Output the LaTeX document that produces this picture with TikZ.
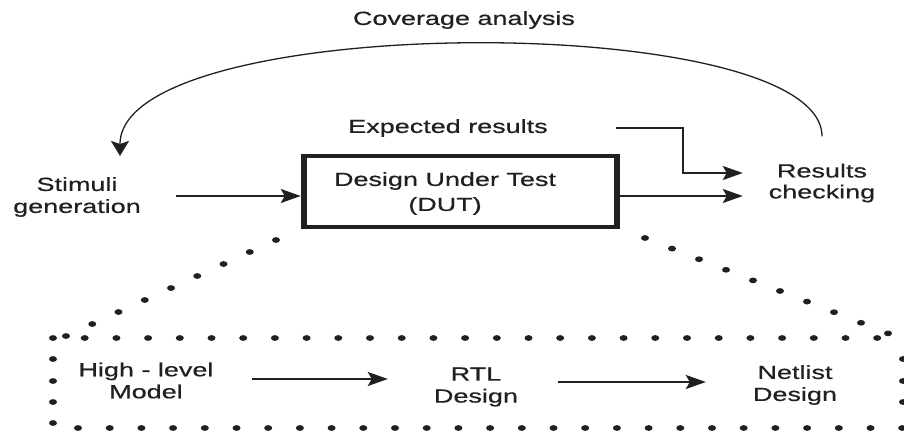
\documentclass[tikz,border=0pt]{standalone}
\usepackage{fontspec}
\setmainfont[FakeStretch=1.42,FakeBold=0.6]{Liberation Sans}
\usetikzlibrary{arrows.meta,calc}
\definecolor{ink}{HTML}{231F20}
\begin{document}
\begin{tikzpicture}[x=1pt,y=-1pt,
  lbl/.style={inner sep=0pt, align=center, text=ink, font=\fontsize{19}{22}\selectfont},
  arr/.style={draw=ink, line width=2.2pt, -{Stealth[length=20pt,width=14pt,inset=4pt]}},
  loop/.style={draw=ink, line width=1.3pt, -{Stealth[length=15pt,width=18pt,inset=3pt]}},
  dutbox/.style={draw=ink, line width=4.5pt, minimum width=315pt, minimum height=71pt, inner sep=0pt},
  pip/.style={fill=ink}]
\useasboundingbox (0,0) rectangle (904,433);

% labels of the test bench
\node[lbl] (cov) at (464,20) {Coverage analysis};
\node[lbl] (exp) at (448,128) {Expected results};
\node[dutbox] (dut) at (460.5,191.5) {};
% heavier side walls of the DUT box
\draw[ink, line width=6.5pt] ($(dut.north west)+(3.25,0)$) -- ($(dut.south west)+(3.25,0)$);
\draw[ink, line width=6pt] ($(dut.north east)+(-3,0)$) -- ($(dut.south east)+(-3,0)$);
\node[lbl, font=\fontsize{19}{25}\selectfont] (duttext) at (445,193.5) {Design Under Test\\(DUT)};
\node[lbl] (stim) at (77,197) {Stimuli\\generation};
\node[lbl, font=\fontsize{19}{21}\selectfont, outer xsep=26pt] (res) at (822,183) {Results\\checking};

% flow through the bench
\draw[arr] ($(stim.east)+(35,-1)$) -- ($(stim.east -| dut.west)+(0,-1)$);
\draw[arr] ($(dut.east)+(0,4.5)$) -- ($(dut.east -| res.west)+(0,4.5)$);
\draw[arr] ($(exp.east)+(68,0)$) -| ($(exp.east)+(135,45)$) -- ($(exp.east -| res.west)+(0,45)$);
\draw[loop] ($(res.north)+(0,-27)$) .. controls +(0,-127) and +(0,-145) .. ($(stim.north)+(43,-21)$);

% refinement levels inside the DUT
\node[lbl] (hl) at (146,380.5) {High - level\\Model};
\node[lbl] (rtl) at (476,387) {RTL\\Design};
\node[lbl] (net) at (795,385) {Netlist\\Design};
\draw[arr] ($(hl.east)+(38,-1.5)$) -- ($(hl.east -| rtl.west)+(-46,-1.5)$);
\draw[arr] ($(rtl.east)+(40,-5)$) -- ($(rtl.east -| net.west)+(-47,-5)$);

% dotted zoom frame
\foreach \i in {0,...,26}
  \fill[pip] (53+31.7*\i,338) ellipse [x radius=4pt, y radius=2.9pt];
\foreach \i in {0,...,26}
  \fill[pip] (78+31.7*\i,428) ellipse [x radius=4pt, y radius=2.9pt];
\foreach \y in {359,381,402,423}
  \fill[pip] (53,\y) ellipse [x radius=4pt, y radius=2.9pt];
\foreach \y in {359,381,402}
  \fill[pip] (903,\y) ellipse [x radius=4pt, y radius=2.9pt];
\foreach \i in {0,...,8}
  \fill[pip] (276-26.25*\i,240+12*\i) ellipse [x radius=4pt, y radius=2.9pt];
\foreach \i in {0,...,9}
  \fill[pip] (645+27*\i,238+10.6*\i) ellipse [x radius=4pt, y radius=2.9pt];
\end{tikzpicture}
\end{document}
